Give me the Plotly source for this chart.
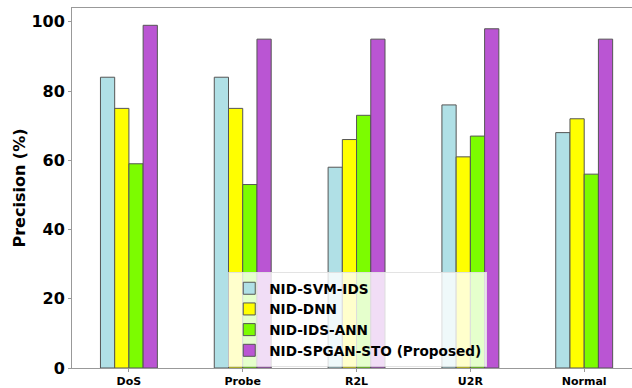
import plotly.graph_objects as go

categories = ["DoS", "Probe", "R2L", "U2R", "Normal"]
svm_ids = [84, 84, 58, 76, 68]
dnn = [75, 75, 66, 61, 72]
ids_ann = [59, 53, 73, 67, 56]
spgan_sto = [99, 95, 95, 98, 95]

series = [
    ("NID-SVM-IDS", svm_ids, "#B0E0E6"),
    ("NID-DNN", dnn, "#FFFF00"),
    ("NID-IDS-ANN", ids_ann, "#7CFC00"),
    ("NID-SPGAN-STO (Proposed)", spgan_sto, "#BA55D3"),
]

fig = go.Figure()
for name, vals, color in series:
    fig.add_trace(go.Bar(
        x=categories, y=vals, name=name,
        marker=dict(color=color, line=dict(color="#555555", width=1)),
    ))

font_bold = "DejaVu Sans"
fig.update_layout(
    width=632, height=388,
    margin=dict(l=72, r=0, t=8, b=20),
    plot_bgcolor="white", paper_bgcolor="white",
    barmode="group", bargap=0.5, bargroupgap=0,
    font=dict(family=font_bold, color="black"),
    legend=dict(
        x=0.279, y=0.003, xanchor="left", yanchor="bottom",
        bgcolor="rgba(255,255,255,0.8)",
        bordercolor="rgba(220,220,220,0.8)", borderwidth=1,
        font=dict(family=font_bold, size=13.6, color="black", weight="bold"),
        tracegroupgap=0,
    ),
    xaxis=dict(
        range=[-0.5, 4.42], showgrid=False, showline=True, linecolor="#999999",
        linewidth=1, mirror=True, ticks="outside", ticklen=3, tickcolor="#999999",
        tickfont=dict(size=11, weight="bold"),
    ),
    yaxis=dict(
        range=[0, 104], showgrid=False, showline=True, linecolor="#999999",
        linewidth=1, ticks="outside", ticklen=3, tickcolor="#999999",
        tickvals=[0, 20, 40, 60, 80, 100], zeroline=False,
        tickfont=dict(size=16, weight="bold"),
        title=dict(text="Precision (%)", font=dict(size=16, weight="bold"), standoff=1),
    ),
)

fig.write_html("out.html")
